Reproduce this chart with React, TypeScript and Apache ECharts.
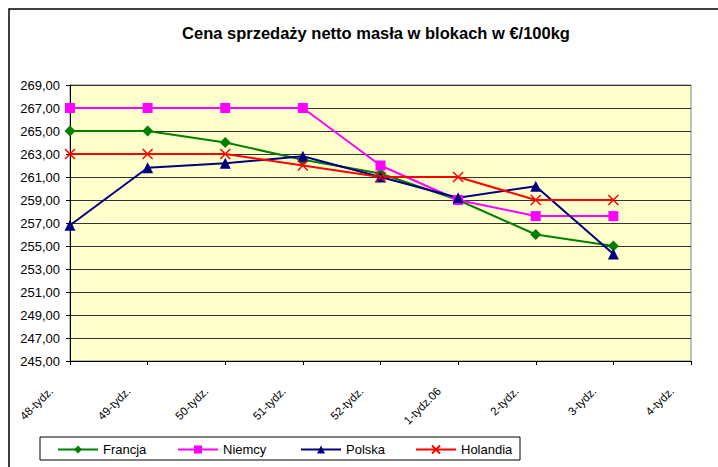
import React, { useEffect, useRef } from "react";
import * as echarts from "echarts";

const categories = ["48-tydz.", "49-tydz.", "50-tydz.", "51-tydz.", "52-tydz.", "1-tydz.06", "2-tydz.", "3-tydz.", "4-tydz."];
const francja = [265, 265, 264, 262.5, 261.3, 259, 256, 255];
const niemcy = [267, 267, 267, 267, 262, 259, 257.6, 257.6];
const polska = [256.8, 261.8, 262.2, 262.8, 261, 259.2, 260.2, 254.3];
const holandia = [263, 263, 263, 262, 261, 261, 259, 259];
const seriesNames = ["Francja", "Niemcy", "Polska", "Holandia"];
const titleText = "Cena sprzedaży netto masła w blokach w €/100kg";

const FONT = "Liberation Sans, Arial, sans-serif";

export default function App() {
  const ref = useRef<HTMLDivElement>(null);
  useEffect(() => {
    document.body.style.margin = "0";
    const chart = echarts.init(ref.current!, null, { renderer: "svg" });
    const xPath = "path://M0,0L10,10M10,0L0,10";
    const mk = (name: string, data: number[], color: string, symbol: string, size: number, extra: any = {}) => ({
      name,
      type: "line",
      data,
      symbol,
      symbolSize: size,
      lineStyle: { color, width: 2 },
      itemStyle: { color, ...extra },
      emphasis: { disabled: true },
    });
    const legendLefts = [57, 177, 300, 415];
    chart.setOption({
      animation: false,
      textStyle: { fontFamily: FONT },
      grid: {
        left: 70,
        right: 27,
        top: 85,
        bottom: 106,
        show: true,
        backgroundColor: "#FFFFCC",
        borderColor: "#808080",
        borderWidth: 1,
      },
      graphic: [
        {
          type: "rect",
          shape: { x: 9, y: 9, width: 900, height: 600 },
          style: { fill: "none", stroke: "#000", lineWidth: 1.5 },
          silent: true,
        },
        {
          type: "rect",
          shape: { x: 40, y: 437, width: 480, height: 23 },
          style: { fill: "none", stroke: "#000", lineWidth: 1 },
          silent: true,
        },
        {
          type: "text",
          x: 376,
          y: 33,
          style: {
            text: titleText,
            fontFamily: FONT,
            fontWeight: "bold",
            fontSize: 16.5,
            fill: "#000",
            textAlign: "center",
            textVerticalAlign: "middle",
          },
        },
      ],
      legend: seriesNames.map((n, i) => ({
        data: [n],
        left: legendLefts[i],
        top: 443,
        padding: 0,
        itemWidth: 40,
        itemHeight: 10,
        itemGap: 0,
        selectedMode: false,
        textStyle: { fontFamily: FONT, fontSize: 13, color: "#000" },
      })),
      xAxis: {
        type: "category",
        data: categories,
        boundaryGap: false,
        axisLine: { lineStyle: { color: "#000", width: 1 } },
        axisTick: { show: true, length: 4, lineStyle: { color: "#000" } },
        axisLabel: {
          rotate: 45,
          margin: 9,
          padding: [0, 27, 0, 0],
          fontFamily: FONT,
          fontSize: 11.5,
          color: "#000",
          interval: 0,
        },
        splitLine: { show: false },
      },
      yAxis: {
        type: "value",
        min: 245,
        max: 269,
        interval: 2,
        axisLine: { show: true, lineStyle: { color: "#000", width: 1 } },
        axisTick: { show: true, length: 4, lineStyle: { color: "#000" } },
        axisLabel: {
          margin: 10,
          fontFamily: FONT,
          fontSize: 13,
          color: "#000",
          formatter: (v: number) => v.toFixed(2).replace(".", ","),
        },
        splitLine: { show: true, lineStyle: { color: "#333", width: 1 } },
      },
      series: [
        mk("Francja", francja, "#008000", "diamond", 11),
        mk("Niemcy", niemcy, "#FF00FF", "rect", 10),
        mk("Polska", polska, "#000080", "triangle", 11),
        mk("Holandia", holandia, "#FF0000", xPath, 10, { borderColor: "#FF0000", borderWidth: 1.5 }),
      ],
    });
    return () => chart.dispose();
  }, []);
  return <div ref={ref} style={{ width: 718, height: 467 }} />;
}
